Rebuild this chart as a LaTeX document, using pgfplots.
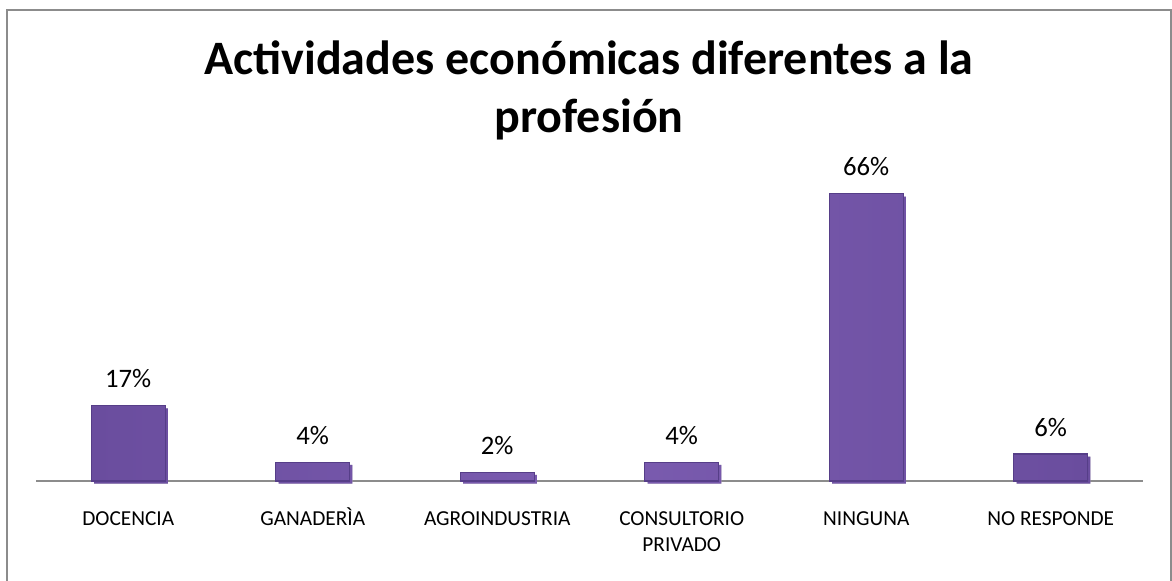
\documentclass[border=0pt]{standalone}
\usepackage{pgfplots}
\pgfplotsset{compat=1.18}
\usepackage{fontspec}
\setmainfont{Carlito}
\definecolor{barfill}{HTML}{7B5CB0}
\definecolor{barside}{HTML}{6A4D9E}
\definecolor{baredge}{HTML}{563E88}
\definecolor{framegray}{HTML}{8C8C8C}
\definecolor{axisgray}{HTML}{8C8C8C}
\pgfplotstableread{
x val
0 17.3
1 4.3
2 2.0
3 4.3
4 66.0
5 6.2
}\datatable
\newcommand{\lr}{\rule{0pt}{17pt}}
\begin{document}
\begin{tikzpicture}[x=0.75pt,y=0.75pt]
\useasboundingbox (0,0) rectangle (1172,581);
\draw[framegray, line width=1.5pt] (7,-10) -- (7,571) -- (1171,571) -- (1171,-10);
\node[anchor=base, font=\fontsize{36pt}{43pt}\selectfont\bfseries] at (589,506) {Actividades económicas diferentes a la};
\node[anchor=base, font=\fontsize{36pt}{43pt}\selectfont\bfseries] at (589,448) {profesión};
\begin{axis}[
  at={(27pt,75pt)}, anchor=south west,
  scale only axis,
  width=830.25pt, height=228.4pt,
  xmin=-0.5, xmax=5.5, ymin=0, ymax=70,
  enlargelimits=false,
  axis x line=bottom, axis y line=none,
  x axis line style={-, draw=axisgray, line width=1.1pt},
  xtick=data,
  xticklabels={{\lr DOCENCIA\\\mbox{}}, {\lr\smash{GANADERÌA}\\\mbox{}}, {\lr AGROINDUSTRIA\\\mbox{}}, {\lr CONSULTORIO\\PRIVADO}, {\lr NINGUNA\\\mbox{}}, {\lr NO RESPONDE\\\mbox{}}},
  xtick style={draw=none},
  xticklabel style={font=\fontsize{16pt}{19.5pt}\selectfont, align=center, inner sep=0pt, anchor=north, yshift=-12pt},
  ytick=\empty,
  clip=false,
  ybar, bar width=0.4,
  nodes near coords={\pgfmathprintnumber[fixed,precision=0,assume math mode=true]{\pgfplotspointmeta}\%},
  every node near coord/.append style={font=\fontsize{20pt}{24pt}\selectfont, anchor=base, inner sep=0pt, yshift=13.5pt},
]
\addplot[left color=barside, right color=barside, middle color=barfill, draw=baredge, line width=0.8pt,
  preaction={fill=black!22, draw=none, transform canvas={xshift=2pt,yshift=-2pt}}]
  table[x=x, y=val] {\datatable};
\end{axis}
\end{tikzpicture}
\end{document}
